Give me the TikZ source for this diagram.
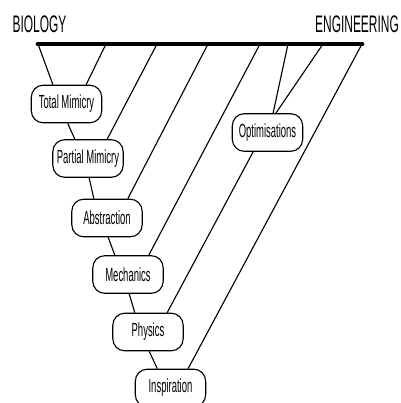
\documentclass[tikz,border=0pt]{standalone}
\usepackage{fontspec}
\setmainfont{Liberation Sans}[FakeStretch=0.5]

\begin{document}
\begin{tikzpicture}[x=0.025cm,y=-0.025cm,line width=0.8pt,
        every node/.style = {shape=rectangle, rounded corners=0.3cm,
            draw, align=center, inner sep=0pt, minimum width=1.76cm,
            minimum height=0.94cm, font=\fontsize{13.5}{16}\selectfont}]
    \useasboundingbox (0,0) rectangle (401,403);
    % end labels and bar
    \node[draw=none, anchor=base] (bio) at (39.5,32) {\fontsize{17}{20}\selectfont BIOLOGY};
    \node[draw=none, anchor=base] (eng) at (357,32) {\fontsize{17}{20}\selectfont ENGINEERING};
    \draw[line width=3.5pt, line cap=round] (38,44) -- (362,44);
    \foreach \i/\x in {1/38,2/106,3/157,4/208,5/260,6/288,7/323,8/362}
        \coordinate (b\i) at (\x,44);
    % stages
    \node (tm) at (66.5,104) {Total Mimicry};
    \node (pm) at (88,158.5) {Partial Mimicry};
    \node (ab) at (107,218) {Abstraction};
    \node (me) at (128,274.5) {Mechanics};
    \node (ph) at (148,332) {Physics};
    \node (in) at (170.5,388) {Inspiration};
    \node (op) at (267.5,132.5) {Optimisations};
    % chain
    \foreach \a/\b in {tm/pm,pm/ab,ab/me,me/ph,ph/in}
        \draw ([xshift=0.03cm]\a.south) -- ([xshift=-0.33cm]\b.north);
    % from the bar
    \draw (b1) -- ([xshift=-0.34cm]tm.north);
    \draw (b2) -- ([xshift=0.49cm]tm.north);
    \draw (b3) -- ([xshift=0.48cm]pm.north);
    \draw (b4) -- ([xshift=0.52cm]ab.north);
    \draw (b5) -- ([xshift=0.52cm]me.north);
    \draw (b6) -- ([xshift=0.14cm]op.north);
    \draw (b7) -- ([xshift=0.21cm]op.north);
    \draw ([xshift=-0.36cm]op.south) -- ([xshift=0.48cm]ph.north);
    \draw (b8) -- ([xshift=0.44cm]in.north);
\end{tikzpicture}
\end{document}
